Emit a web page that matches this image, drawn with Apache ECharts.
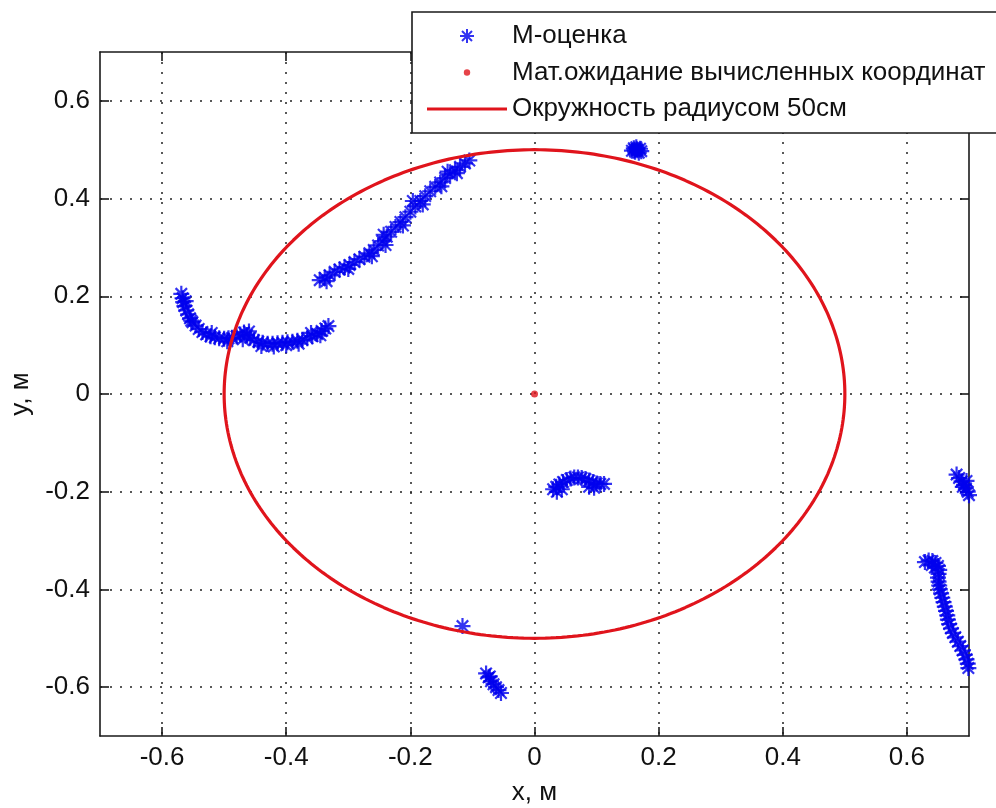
<!DOCTYPE html>
<html>
<head>
<meta charset="utf-8">
<script src="https://cdn.jsdelivr.net/npm/echarts@6/dist/echarts.min.js"></script>
<style>
  html, body { margin: 0; padding: 0; background: #ffffff; }
  #chart { width: 996px; height: 808px; }
</style>
</head>
<body>
<div id="chart"></div>
<script>
// Axis ranges and tick positions (metres)
const axisMin = -0.7;
const axisMax = 0.7;
const xTicks = [-0.6, -0.4, -0.2, 0, 0.2, 0.4, 0.6];
const yTicks = [-0.6, -0.4, -0.2, 0, 0.2, 0.4, 0.6];
const xAxisTitle = 'x, м';
const yAxisTitle = 'y, м';

const seriesNames = [
  'М-оценка',
  'Мат.ожидание вычисленных координат',
  'Окружность радиусом 50см'
];

// M-estimates of position, grouped by track segment [x, y]
const trackLeftArc = [
  [-0.569, 0.205], [-0.567, 0.196], [-0.566, 0.188], [-0.564, 0.180], [-0.561, 0.171],
  [-0.558, 0.163], [-0.555, 0.155], [-0.551, 0.147], [-0.546, 0.140], [-0.541, 0.133],
  [-0.535, 0.127], [-0.529, 0.122], [-0.522, 0.118], [-0.515, 0.116], [-0.508, 0.114],
  [-0.500, 0.113], [-0.493, 0.114], [-0.487, 0.115], [-0.480, 0.118], [-0.474, 0.122],
  [-0.468, 0.126], [-0.463, 0.121], [-0.458, 0.115], [-0.452, 0.110], [-0.445, 0.107],
  [-0.438, 0.105], [-0.430, 0.103], [-0.422, 0.103], [-0.414, 0.104], [-0.406, 0.105],
  [-0.398, 0.106], [-0.390, 0.107], [-0.382, 0.109], [-0.374, 0.111], [-0.366, 0.114],
  [-0.358, 0.118], [-0.350, 0.123], [-0.343, 0.129], [-0.337, 0.134], [-0.332, 0.139],
  [-0.562, 0.190], [-0.553, 0.150], [-0.520, 0.125], [-0.495, 0.108], [-0.470, 0.112],
  [-0.460, 0.128], [-0.440, 0.098], [-0.420, 0.097], [-0.400, 0.100], [-0.380, 0.103],
  [-0.360, 0.125], [-0.345, 0.120]
];
const trackDiagonal = [
  [-0.346, 0.233], [-0.338, 0.238], [-0.330, 0.243], [-0.322, 0.250], [-0.314, 0.255],
  [-0.306, 0.259], [-0.298, 0.264], [-0.290, 0.270], [-0.282, 0.276], [-0.274, 0.281],
  [-0.266, 0.288], [-0.259, 0.295], [-0.252, 0.304], [-0.245, 0.313], [-0.238, 0.322],
  [-0.231, 0.332], [-0.224, 0.342], [-0.216, 0.352], [-0.208, 0.362], [-0.200, 0.373],
  [-0.192, 0.384], [-0.184, 0.395], [-0.176, 0.405], [-0.168, 0.415], [-0.160, 0.424],
  [-0.152, 0.433], [-0.144, 0.442], [-0.136, 0.450], [-0.128, 0.458], [-0.120, 0.465],
  [-0.112, 0.472], [-0.105, 0.478],
  [-0.335, 0.231], [-0.300, 0.256], [-0.262, 0.282], [-0.240, 0.305], [-0.212, 0.345],
  [-0.180, 0.388], [-0.150, 0.425], [-0.125, 0.452], [-0.243, 0.326], [-0.196, 0.395],
  [-0.140, 0.455]
];
const trackTopBlob = [
  [0.157, 0.498], [0.160, 0.503], [0.162, 0.496], [0.164, 0.505], [0.166, 0.499],
  [0.168, 0.494], [0.170, 0.502], [0.172, 0.497], [0.165, 0.501], [0.161, 0.500]
];
const trackCentreArc = [
  [0.030, -0.195], [0.035, -0.190], [0.040, -0.185], [0.046, -0.180], [0.052, -0.176],
  [0.058, -0.173], [0.064, -0.171], [0.070, -0.171], [0.076, -0.172], [0.082, -0.174],
  [0.088, -0.177], [0.094, -0.180], [0.100, -0.183], [0.106, -0.184], [0.112, -0.184],
  [0.036, -0.200], [0.044, -0.195], [0.088, -0.190], [0.096, -0.192]
];
const trackSingle = [[-0.116, -0.475]];
const trackBottom = [
  [-0.078, -0.572], [-0.074, -0.580], [-0.070, -0.588], [-0.066, -0.594],
  [-0.062, -0.600], [-0.058, -0.606], [-0.054, -0.612], [-0.072, -0.578]
];
const trackRightUpper = [
  [0.680, -0.165], [0.684, -0.172], [0.688, -0.179], [0.692, -0.186], [0.695, -0.193],
  [0.698, -0.200], [0.700, -0.207], [0.690, -0.190], [0.696, -0.178]
];
const trackRightLower = [
  [0.629, -0.344], [0.635, -0.341], [0.641, -0.342], [0.646, -0.346], [0.650, -0.352],
  [0.652, -0.360], [0.651, -0.368], [0.650, -0.376], [0.651, -0.384], [0.652, -0.392],
  [0.653, -0.400], [0.655, -0.408], [0.657, -0.417], [0.659, -0.426], [0.661, -0.435],
  [0.663, -0.444], [0.665, -0.453], [0.666, -0.462], [0.668, -0.471], [0.671, -0.480],
  [0.674, -0.489], [0.678, -0.498], [0.682, -0.507], [0.686, -0.516], [0.690, -0.525],
  [0.693, -0.534], [0.696, -0.543], [0.698, -0.552], [0.699, -0.561], [0.640, -0.350],
  [0.645, -0.355]
];

// Expected value of the computed coordinates
const meanPoint = [[0, 0]];

// Reference circle
const CIRCLE_RADIUS = 0.5;
const CIRCLE_STEPS = 360;

const mEstimates = [].concat(
  trackLeftArc, trackDiagonal, trackTopBlob, trackCentreArc,
  trackSingle, trackBottom, trackRightUpper, trackRightLower
);

const circlePoints = [];
for (let i = 0; i <= CIRCLE_STEPS; i++) {
  const a = (i / CIRCLE_STEPS) * 2 * Math.PI;
  circlePoints.push([CIRCLE_RADIUS * Math.cos(a), CIRCLE_RADIUS * Math.sin(a)]);
}

const FONT = "'Liberation Sans', Arial, sans-serif";
const TEXT_COLOR = '#111111';
const BLUE = '#0000ee';
const RED = '#e0141c';
const ASTERISK = 'path://M0 7L14 7M7 0L7 14M2 2L12 12M12 2L2 12';
const SMALL_DOT = 'path://M0 0M14 14M7 3.8A3.2 3.2 0 1 1 7 10.2A3.2 3.2 0 1 1 7 3.8Z';
const LINE_ICON = 'path://M0 0L80 0L80 3L0 3Z';

function tickLabel(v) {
  return String(Math.round(v * 10) / 10);
}

function baseAxis(ticks, extra) {
  return Object.assign({
    type: 'value',
    min: axisMin,
    max: axisMax,
    axisLine: { show: true, onZero: false, lineStyle: { color: '#1a1a1a', width: 1.6 } },
    axisTick: { show: true, inside: true, length: 9, customValues: ticks,
                lineStyle: { color: '#1a1a1a', width: 1.6 } },
    axisLabel: { show: false, customValues: ticks },
    splitLine: { show: false }
  }, extra);
}

const chart = echarts.init(document.getElementById('chart'), null, { renderer: 'canvas' });

chart.setOption({
  animation: false,
  backgroundColor: '#ffffff',
  grid: { left: 100, right: 27, top: 52, bottom: 72, containLabel: false, outerBoundsMode: 'none' },
  xAxis: [
    baseAxis(xTicks, {
      position: 'bottom',
      name: xAxisTitle,
      nameLocation: 'middle',
      nameGap: 44,
      nameTextStyle: { fontFamily: FONT, fontSize: 26, color: TEXT_COLOR },
      axisLabel: { show: true, customValues: xTicks, margin: 9, formatter: tickLabel,
                   fontFamily: FONT, fontSize: 26, color: TEXT_COLOR },
      splitLine: { show: true, lineStyle: { color: '#222222', width: 1.5, type: [2, 8] } }
    }),
    baseAxis(xTicks, { position: 'top' })
  ],
  yAxis: [
    baseAxis(yTicks, {
      position: 'left',
      name: yAxisTitle,
      nameLocation: 'middle',
      nameGap: 54,
      nameTextStyle: { fontFamily: FONT, fontSize: 26, color: TEXT_COLOR },
      axisLabel: { show: true, customValues: yTicks, margin: 10, formatter: tickLabel,
                   fontFamily: FONT, fontSize: 26, color: TEXT_COLOR },
      splitLine: { show: true, lineStyle: { color: '#222222', width: 1.5, type: [2, 8] } }
    }),
    baseAxis(yTicks, { position: 'right' })
  ],
  legend: {
    orient: 'vertical',
    left: 412,
    top: 12,
    padding: [11, 18, 11, 15],
    itemGap: 10.5,
    itemWidth: 80,
    itemHeight: 14,
    backgroundColor: '#ffffff',
    borderColor: '#1a1a1a',
    borderWidth: 1.6,
    borderRadius: 0,
    z: 10,
    selectedMode: false,
    textStyle: { fontFamily: FONT, fontSize: 26, lineHeight: 26, color: TEXT_COLOR },
    data: [
      { name: seriesNames[0], icon: ASTERISK },
      { name: seriesNames[1], icon: SMALL_DOT },
      { name: seriesNames[2], icon: LINE_ICON }
    ]
  },
  series: [
    {
      name: seriesNames[0],
      type: 'scatter',
      data: mEstimates,
      symbol: ASTERISK,
      symbolSize: 16,
      itemStyle: { color: BLUE, borderColor: BLUE, borderWidth: 2.2 },
      clip: true,
      z: 2
    },
    {
      name: seriesNames[1],
      type: 'scatter',
      data: meanPoint,
      symbol: 'circle',
      symbolSize: 7,
      itemStyle: { color: RED },
      z: 3
    },
    {
      name: seriesNames[2],
      type: 'line',
      data: circlePoints,
      showSymbol: false,
      symbol: 'none',
      smooth: false,
      lineStyle: { color: RED, width: 3.2 },
      itemStyle: { color: RED },
      clip: true,
      z: 4
    }
  ]
});
</script>
</body>
</html>
